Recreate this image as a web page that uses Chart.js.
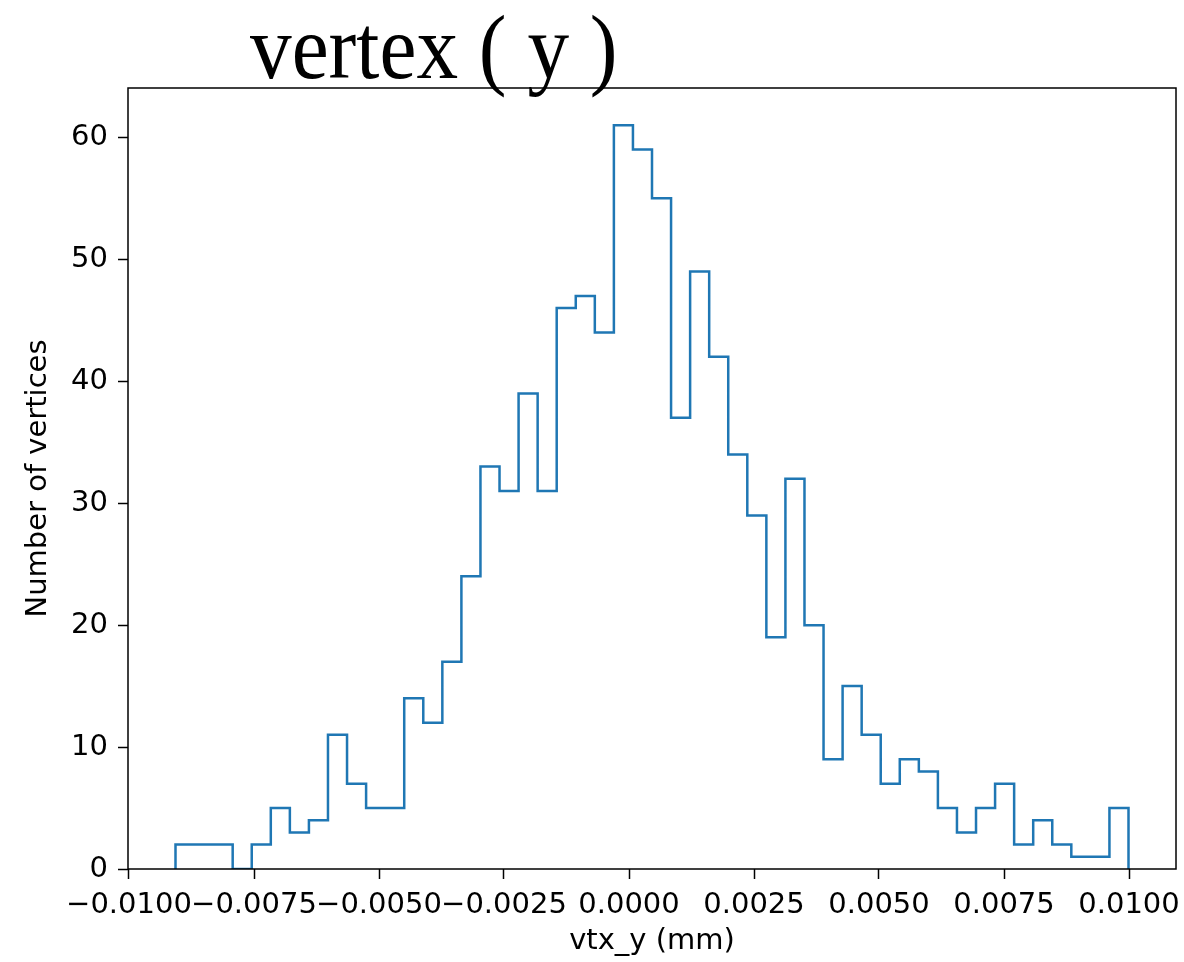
<!DOCTYPE html>
<html>
<head>
<meta charset="utf-8">
<script src="https://cdn.jsdelivr.net/npm/chart.js@4/dist/chart.umd.min.js"></script>
<style>
  body { margin: 0; background: #fff; }
  #wrap { position: relative; width: 1184px; height: 962px; }
  #title {
    position: absolute; left: 250px; top: 1px;
    font-family: "Liberation Serif", serif; font-size: 92px; line-height: 92px;
    color: #000; white-space: pre; transform: scaleX(0.905); transform-origin: left top;
  }
</style>
</head>
<body>
<div id="wrap">
  <canvas id="chart" width="1184" height="962"></canvas>
  <div id="title">vertex ( y )</div>
</div>
<script>
// histogram of vtx_y, 50 bins
const binLo = -0.00907;
const binHi = 0.00999;
const counts = [
    2, 2, 2, 0, 2, 5, 3, 4, 11, 7,
    5, 5, 14, 12, 17, 24, 33, 31, 39, 31,
    46, 47, 44, 61, 59, 55, 37, 49, 42, 34,
    29, 19, 32, 20, 9, 15, 11, 7, 9, 8,
    5, 3, 5, 7, 2, 4, 2, 1, 1, 5
];
const xTicks = [-0.01, -0.0075, -0.005, -0.0025, 0, 0.0025, 0.005, 0.0075, 0.01];
const yTicks = [0, 10, 20, 30, 40, 50, 60];

// step outline like matplotlib histtype='step'
const nBins = counts.length;
const width = (binHi - binLo) / nBins;
const points = [{ x: binLo, y: 0 }];
counts.forEach((c, i) => points.push({ x: binLo + (i + 1) * width, y: c }));
points.push({ x: binHi, y: 0 });

const frame = {
    id: 'frame',
    afterDatasetsDraw(chart) {
        const a = chart.chartArea;
        const ctx = chart.ctx;
        ctx.save();
        ctx.strokeStyle = '#000';
        ctx.lineWidth = 1.5;
        ctx.strokeRect(a.left, a.top, a.right - a.left, a.bottom - a.top);
        ctx.restore();
    }
};

const tickFont = { family: 'DejaVu Sans', size: 29 };

new Chart(document.getElementById('chart'), {
    type: 'line',
    data: {
        datasets: [{
            data: points,
            stepped: 'after',
            borderColor: '#1f77b4',
            borderWidth: 2.5,
            pointRadius: 0,
            fill: false
        }]
    },
    options: {
        responsive: false,
        animation: false,
        devicePixelRatio: 1,
        layout: { padding: { top: 88, right: 8, left: 0, bottom: 0 } },
        plugins: { legend: { display: false }, tooltip: { enabled: false } },
        scales: {
            x: {
                type: 'linear',
                min: -0.01002,
                max: 0.01094,
                afterBuildTicks: s => { s.ticks = xTicks.map(v => ({ value: v })); },
                afterFit: s => { s.height = 93; s.paddingLeft = 0; s.paddingRight = 0; },
                border: { display: false },
                grid: { drawOnChartArea: false, drawTicks: true, tickLength: 10, color: '#000', tickWidth: 1.5 },
                ticks: {
                    autoSkip: false, maxRotation: 0, minRotation: 0, padding: 9,
                    color: '#000', font: tickFont,
                    callback: v => (v < 0 ? '\u2212' : '') + Math.abs(v).toFixed(4)
                },
                title: { display: true, text: 'vtx_y (mm)', color: '#000', font: tickFont, padding: { top: 0, bottom: 3 } }
            },
            y: {
                min: 0,
                max: 64.05,
                afterBuildTicks: s => { s.ticks = yTicks.map(v => ({ value: v })); },
                afterFit: s => { s.width = 128; },
                border: { display: false },
                grid: { drawOnChartArea: false, drawTicks: true, tickLength: 10, color: '#000', tickWidth: 1.5 },
                ticks: { padding: 10, color: '#000', font: tickFont },
                title: { display: true, text: 'Number of vertices', color: '#000', font: tickFont, padding: { top: 21, bottom: 0 } }
            }
        }
    },
    plugins: [frame]
});
</script>
</body>
</html>
